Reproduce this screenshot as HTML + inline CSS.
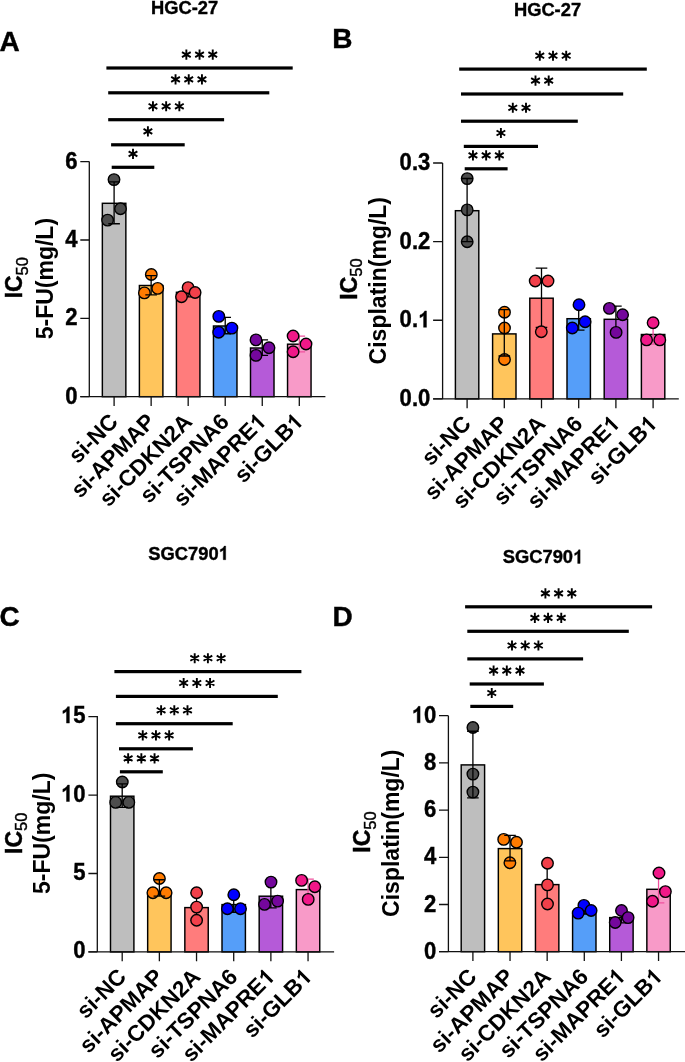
<!DOCTYPE html>
<html><head><meta charset="utf-8"><style>
html,body{margin:0;padding:0;background:#fff;overflow:hidden}
svg{display:block;will-change:transform}
text{font-family:"Liberation Sans", sans-serif;fill:#000}
.h{stroke:#000;stroke-width:0.4px}
.h2{stroke:#000;stroke-width:0.45px}
.th{stroke:none}
</style></head><body>
<svg width="685" height="1062" viewBox="0 0 685 1062">
<rect width="685" height="1062" fill="#fff"/>
<rect x="102.35" y="203.30" width="23.50" height="193.40" fill="#bebebe" stroke="#000" stroke-width="1.45"/>
<rect x="139.39" y="285.50" width="23.50" height="111.20" fill="#ffc55c" stroke="#000" stroke-width="1.45"/>
<rect x="176.43" y="292.30" width="23.50" height="104.40" fill="#ff7c7c" stroke="#000" stroke-width="1.45"/>
<rect x="213.47" y="326.00" width="23.50" height="70.70" fill="#559ef9" stroke="#000" stroke-width="1.45"/>
<rect x="250.51" y="348.00" width="23.50" height="48.70" fill="#b55ad8" stroke="#000" stroke-width="1.45"/>
<rect x="287.55" y="344.20" width="23.50" height="52.50" fill="#f89ac8" stroke="#000" stroke-width="1.45"/>
<circle cx="114.00" cy="179.60" r="5.75" fill="#4d4d4d" stroke="#000" stroke-width="1.4"/><circle cx="120.50" cy="208.80" r="5.75" fill="#4d4d4d" stroke="#000" stroke-width="1.4"/><circle cx="107.60" cy="220.10" r="5.75" fill="#4d4d4d" stroke="#000" stroke-width="1.4"/>
<path d="M114.10 181.93V223.73M108.30 181.93H119.90M108.30 223.73H119.90" stroke="#000" stroke-width="1.3" fill="none"/>
<circle cx="151.30" cy="274.50" r="5.75" fill="#ff7b00" stroke="#000" stroke-width="1.4"/><circle cx="157.70" cy="288.40" r="5.75" fill="#ff7b00" stroke="#000" stroke-width="1.4"/><circle cx="144.40" cy="292.90" r="5.75" fill="#ff7b00" stroke="#000" stroke-width="1.4"/>
<path d="M151.14 275.67V294.86M145.34 275.67H156.94M145.34 294.86H156.94" stroke="#000" stroke-width="1.3" fill="none"/>
<path d="M188.18 287.70V296.90M182.38 287.70H193.98M182.38 296.90H193.98" stroke="#000" stroke-width="1.3" fill="none"/>
<circle cx="188.10" cy="287.60" r="5.75" fill="#f2404a" stroke="#000" stroke-width="1.4"/><circle cx="195.10" cy="292.50" r="5.75" fill="#f2404a" stroke="#000" stroke-width="1.4"/><circle cx="181.50" cy="296.80" r="5.75" fill="#f2404a" stroke="#000" stroke-width="1.4"/>
<path d="M225.22 317.37V333.77M219.42 317.37H231.02M219.42 333.77H231.02" stroke="#000" stroke-width="1.3" fill="none"/>
<circle cx="218.80" cy="316.40" r="5.75" fill="#0000ff" stroke="#000" stroke-width="1.4"/><circle cx="231.90" cy="328.10" r="5.75" fill="#0000ff" stroke="#000" stroke-width="1.4"/><circle cx="218.70" cy="332.20" r="5.75" fill="#0000ff" stroke="#000" stroke-width="1.4"/>
<path d="M262.26 339.92V355.42M256.46 339.92H268.06M256.46 355.42H268.06" stroke="#000" stroke-width="1.3" fill="none"/>
<circle cx="256.00" cy="339.90" r="5.75" fill="#74079c" stroke="#000" stroke-width="1.4"/><circle cx="269.00" cy="347.70" r="5.75" fill="#74079c" stroke="#000" stroke-width="1.4"/><circle cx="256.00" cy="355.40" r="5.75" fill="#74079c" stroke="#000" stroke-width="1.4"/>
<path d="M299.30 336.03V351.83M293.50 336.03H305.10M293.50 351.83H305.10" stroke="#f0509e" stroke-width="1.3" fill="none"/>
<circle cx="293.10" cy="336.00" r="5.75" fill="#f01888" stroke="#000" stroke-width="1.4"/><circle cx="306.00" cy="344.00" r="5.75" fill="#f01888" stroke="#000" stroke-width="1.4"/><circle cx="293.10" cy="351.80" r="5.75" fill="#f01888" stroke="#000" stroke-width="1.4"/>
<path d="M89.30 161.60V396.70M80.30 396.70H325.40" stroke="#111" stroke-width="1.3" fill="none"/>
<g transform="translate(77.50 403.80) scale(0.96 1)"><text class="h" text-anchor="end" font-size="23" font-weight="bold">0</text></g>
<g transform="translate(77.50 325.44) scale(0.96 1)"><text class="h" text-anchor="end" font-size="23" font-weight="bold">2</text></g>
<g transform="translate(77.50 247.08) scale(0.96 1)"><text class="h" text-anchor="end" font-size="23" font-weight="bold">4</text></g>
<g transform="translate(77.50 168.72) scale(0.96 1)"><text class="h" text-anchor="end" font-size="23" font-weight="bold">6</text></g>
<path d="M80.30 396.70H89.30M80.30 318.34H89.30M80.30 239.98H89.30M80.30 161.62H89.30M114.10 396.70V406.10M151.14 396.70V406.10M188.18 396.70V406.10M225.22 396.70V406.10M262.26 396.70V406.10M299.30 396.70V406.10" stroke="#111" stroke-width="1.3" fill="none"/>
<g transform="translate(119.30 422.90) rotate(-45)"><text text-anchor="end" font-size="22.5" font-weight="bold">si-NC</text></g>
<g transform="translate(156.34 422.90) rotate(-45)"><text text-anchor="end" font-size="22.5" font-weight="bold">si-APMAP</text></g>
<g transform="translate(193.38 422.90) rotate(-45)"><text text-anchor="end" font-size="22.5" font-weight="bold">si-CDKN2A</text></g>
<g transform="translate(230.42 422.90) rotate(-45)"><text text-anchor="end" font-size="22.5" font-weight="bold">si-TSPNA6</text></g>
<g transform="translate(267.46 422.90) rotate(-45)"><text text-anchor="end" font-size="22.5" font-weight="bold">si-MAPRE<tspan style="fill:none;stroke:none">1</tspan></text><path d="M-3.89 0.00L-6.86 0.00L-6.86 -11.63Q-8.61 -10.05 -10.54 -9.29L-10.54 -12.10Q-9.16 -12.49 -7.68 -13.59Q-6.25 -14.70 -5.70 -16.11L-3.89 -16.11Z"/></g>
<g transform="translate(304.50 422.90) rotate(-45)"><text text-anchor="end" font-size="22.5" font-weight="bold">si-GLB<tspan style="fill:none;stroke:none">1</tspan></text><path d="M-3.89 0.00L-6.86 0.00L-6.86 -11.63Q-8.61 -10.05 -10.54 -9.29L-10.54 -12.10Q-9.16 -12.49 -7.68 -13.59Q-6.25 -14.70 -5.70 -16.11L-3.89 -16.11Z"/></g>
<text transform="translate(22.10 277.70) rotate(-90)" class="h2" text-anchor="middle" font-size="23" font-weight="bold">IC<tspan font-size="16.5" font-weight="normal" style="stroke:#000;stroke-width:0.4px" dy="5.4">50</tspan></text>
<text transform="translate(52.60 278.60) rotate(-90)" class="th" text-anchor="middle" font-size="23" font-weight="bold">5-FU(mg/L)</text>
<rect x="106.40" y="66.40" width="186.30" height="3.2" fill="#000"/>
<rect x="108.20" y="91.20" width="161.10" height="3.2" fill="#000"/>
<rect x="108.20" y="118.10" width="115.90" height="3.2" fill="#000"/>
<rect x="111.10" y="143.20" width="73.60" height="3.2" fill="#000"/>
<rect x="111.70" y="165.70" width="42.60" height="3.2" fill="#000"/>
<path d="M186.35 59.65L186.35 49.55M181.98 57.12L190.72 52.08M181.98 52.08L190.72 57.12M199.55 59.65L199.55 49.55M195.18 57.12L203.92 52.08M195.18 52.08L203.92 57.12M212.75 59.65L212.75 49.55M208.38 57.12L217.12 52.08M208.38 52.08L217.12 57.12M175.55 84.45L175.55 74.35M171.18 81.92L179.92 76.87M171.18 76.87L179.92 81.92M188.75 84.45L188.75 74.35M184.38 81.92L193.12 76.87M184.38 76.87L193.12 81.92M201.95 84.45L201.95 74.35M197.58 81.92L206.32 76.87M197.58 76.87L206.32 81.92M152.95 111.35L152.95 101.25M148.58 108.83L157.32 103.77M148.58 103.77L157.32 108.83M166.15 111.35L166.15 101.25M161.78 108.83L170.52 103.77M161.78 103.77L170.52 108.83M179.35 111.35L179.35 101.25M174.98 108.83L183.72 103.77M174.98 103.77L183.72 108.83M147.90 136.45L147.90 126.35M143.53 133.93L152.27 128.88M143.53 128.88L152.27 133.93M133.00 158.95L133.00 148.85M128.63 156.43L137.37 151.38M128.63 151.38L137.37 156.43" stroke="#000" stroke-width="1.9" fill="none"/>
<g transform="translate(184.60 14.40) scale(0.965 1)"><text class="h" text-anchor="middle" font-size="19" font-weight="bold">HGC-27</text></g>
<text x="-0.60" y="50.80" class="h" font-size="28" font-weight="bold">A</text>
<rect x="455.40" y="210.70" width="23.40" height="188.20" fill="#bebebe" stroke="#000" stroke-width="1.45"/>
<rect x="492.60" y="333.90" width="23.40" height="65.00" fill="#ffc55c" stroke="#000" stroke-width="1.45"/>
<rect x="529.80" y="298.20" width="23.40" height="100.70" fill="#ff7c7c" stroke="#000" stroke-width="1.45"/>
<rect x="567.00" y="318.70" width="23.40" height="80.20" fill="#559ef9" stroke="#000" stroke-width="1.45"/>
<rect x="604.20" y="319.30" width="23.40" height="79.60" fill="#b55ad8" stroke="#000" stroke-width="1.45"/>
<rect x="641.40" y="334.50" width="23.40" height="64.40" fill="#f89ac8" stroke="#000" stroke-width="1.45"/>
<circle cx="467.20" cy="178.60" r="5.75" fill="#4d4d4d" stroke="#000" stroke-width="1.4"/><circle cx="467.20" cy="209.90" r="5.75" fill="#4d4d4d" stroke="#000" stroke-width="1.4"/><circle cx="467.20" cy="241.70" r="5.75" fill="#4d4d4d" stroke="#000" stroke-width="1.4"/>
<path d="M467.10 178.52V241.62M461.30 178.52H472.90M461.30 241.62H472.90" stroke="#000" stroke-width="1.3" fill="none"/>
<circle cx="504.50" cy="312.20" r="5.75" fill="#ff7b00" stroke="#000" stroke-width="1.4"/><circle cx="504.50" cy="328.00" r="5.75" fill="#ff7b00" stroke="#000" stroke-width="1.4"/><circle cx="504.50" cy="359.50" r="5.75" fill="#ff7b00" stroke="#000" stroke-width="1.4"/>
<path d="M504.30 309.60V356.00M498.50 309.60H510.10M498.50 356.00H510.10" stroke="#000" stroke-width="1.3" fill="none"/>
<path d="M541.50 268.20V327.40M535.70 268.20H547.30M535.70 327.40H547.30" stroke="#000" stroke-width="1.3" fill="none"/>
<circle cx="535.20" cy="281.00" r="5.75" fill="#f2404a" stroke="#000" stroke-width="1.4"/><circle cx="548.00" cy="281.00" r="5.75" fill="#f2404a" stroke="#000" stroke-width="1.4"/><circle cx="541.30" cy="331.80" r="5.75" fill="#f2404a" stroke="#000" stroke-width="1.4"/>
<path d="M578.70 306.08V330.19M572.90 306.08H584.50M572.90 330.19H584.50" stroke="#000" stroke-width="1.3" fill="none"/>
<circle cx="579.00" cy="304.70" r="5.75" fill="#0000ff" stroke="#000" stroke-width="1.4"/><circle cx="585.10" cy="321.70" r="5.75" fill="#0000ff" stroke="#000" stroke-width="1.4"/><circle cx="572.30" cy="328.00" r="5.75" fill="#0000ff" stroke="#000" stroke-width="1.4"/>
<path d="M615.90 306.06V330.94M610.10 306.06H621.70M610.10 330.94H621.70" stroke="#000" stroke-width="1.3" fill="none"/>
<circle cx="609.40" cy="308.40" r="5.75" fill="#74079c" stroke="#000" stroke-width="1.4"/><circle cx="622.60" cy="314.70" r="5.75" fill="#74079c" stroke="#000" stroke-width="1.4"/><circle cx="616.10" cy="332.40" r="5.75" fill="#74079c" stroke="#000" stroke-width="1.4"/>
<path d="M653.10 324.24V344.10M647.30 324.24H658.90M647.30 344.10H658.90" stroke="#f0509e" stroke-width="1.3" fill="none"/>
<circle cx="653.10" cy="322.70" r="5.75" fill="#f01888" stroke="#000" stroke-width="1.4"/><circle cx="646.60" cy="339.90" r="5.75" fill="#f01888" stroke="#000" stroke-width="1.4"/><circle cx="659.80" cy="339.90" r="5.75" fill="#f01888" stroke="#000" stroke-width="1.4"/>
<path d="M442.60 162.90V398.90M433.10 398.90H678.80" stroke="#111" stroke-width="1.3" fill="none"/>
<g transform="translate(430.30 406.00) scale(0.96 1)"><text class="h" text-anchor="end" font-size="23" font-weight="bold">0.0</text></g>
<g transform="translate(430.30 327.37) scale(0.96 1)"><text class="h" text-anchor="end" font-size="23" font-weight="bold">0.<tspan style="fill:none;stroke:none">1</tspan></text><path class="h" d="M-3.98 0.00L-7.01 0.00L-7.01 -11.89Q-8.80 -10.28 -10.77 -9.50L-10.77 -12.36Q-9.37 -12.77 -7.85 -13.89Q-6.39 -15.03 -5.83 -16.46L-3.98 -16.46Z"/></g>
<g transform="translate(430.30 248.74) scale(0.96 1)"><text class="h" text-anchor="end" font-size="23" font-weight="bold">0.2</text></g>
<g transform="translate(430.30 170.11) scale(0.96 1)"><text class="h" text-anchor="end" font-size="23" font-weight="bold">0.3</text></g>
<path d="M433.10 398.90H442.60M433.10 320.27H442.60M433.10 241.64H442.60M433.10 163.01H442.60M467.10 398.90V408.30M504.30 398.90V408.30M541.50 398.90V408.30M578.70 398.90V408.30M615.90 398.90V408.30M653.10 398.90V408.30" stroke="#111" stroke-width="1.3" fill="none"/>
<g transform="translate(472.30 425.10) rotate(-45)"><text text-anchor="end" font-size="22.5" font-weight="bold">si-NC</text></g>
<g transform="translate(509.50 425.10) rotate(-45)"><text text-anchor="end" font-size="22.5" font-weight="bold">si-APMAP</text></g>
<g transform="translate(546.70 425.10) rotate(-45)"><text text-anchor="end" font-size="22.5" font-weight="bold">si-CDKN2A</text></g>
<g transform="translate(583.90 425.10) rotate(-45)"><text text-anchor="end" font-size="22.5" font-weight="bold">si-TSPNA6</text></g>
<g transform="translate(621.10 425.10) rotate(-45)"><text text-anchor="end" font-size="22.5" font-weight="bold">si-MAPRE<tspan style="fill:none;stroke:none">1</tspan></text><path d="M-3.89 0.00L-6.86 0.00L-6.86 -11.63Q-8.61 -10.05 -10.54 -9.29L-10.54 -12.10Q-9.16 -12.49 -7.68 -13.59Q-6.25 -14.70 -5.70 -16.11L-3.89 -16.11Z"/></g>
<g transform="translate(658.30 425.10) rotate(-45)"><text text-anchor="end" font-size="22.5" font-weight="bold">si-GLB<tspan style="fill:none;stroke:none">1</tspan></text><path d="M-3.89 0.00L-6.86 0.00L-6.86 -11.63Q-8.61 -10.05 -10.54 -9.29L-10.54 -12.10Q-9.16 -12.49 -7.68 -13.59Q-6.25 -14.70 -5.70 -16.11L-3.89 -16.11Z"/></g>
<text transform="translate(357.00 279.00) rotate(-90)" class="h2" text-anchor="middle" font-size="23" font-weight="bold">IC<tspan font-size="16.5" font-weight="normal" style="stroke:#000;stroke-width:0.4px" dy="5.4">50</tspan></text>
<text transform="translate(385.80 280.70) rotate(-90)" class="th" text-anchor="middle" font-size="23" font-weight="bold">Cisplatin(mg/L)</text>
<rect x="459.20" y="67.50" width="187.60" height="3.2" fill="#000"/>
<rect x="461.00" y="92.40" width="162.20" height="3.2" fill="#000"/>
<rect x="461.00" y="119.60" width="116.80" height="3.2" fill="#000"/>
<rect x="463.80" y="144.80" width="74.20" height="3.2" fill="#000"/>
<rect x="464.70" y="167.20" width="42.90" height="3.2" fill="#000"/>
<path d="M539.80 60.75L539.80 50.65M535.43 58.22L544.17 53.17M535.43 53.17L544.17 58.22M553.00 60.75L553.00 50.65M548.63 58.22L557.37 53.17M548.63 53.17L557.37 58.22M566.20 60.75L566.20 50.65M561.83 58.22L570.57 53.17M561.83 53.17L570.57 58.22M535.50 85.65L535.50 75.55M531.13 83.12L539.87 78.07M531.13 78.07L539.87 83.12M548.70 85.65L548.70 75.55M544.33 83.12L553.07 78.07M544.33 78.07L553.07 83.12M512.80 112.85L512.80 102.75M508.43 110.33L517.17 105.27M508.43 105.27L517.17 110.33M526.00 112.85L526.00 102.75M521.63 110.33L530.37 105.27M521.63 105.27L530.37 110.33M500.90 138.05L500.90 127.95M496.53 135.53L505.27 130.47M496.53 130.47L505.27 135.53M472.95 160.45L472.95 150.35M468.58 157.93L477.32 152.88M468.58 152.88L477.32 157.93M486.15 160.45L486.15 150.35M481.78 157.93L490.52 152.88M481.78 152.88L490.52 157.93M499.35 160.45L499.35 150.35M494.98 157.93L503.72 152.88M494.98 152.88L503.72 157.93" stroke="#000" stroke-width="1.9" fill="none"/>
<g transform="translate(547.50 16.00) scale(0.965 1)"><text class="h" text-anchor="middle" font-size="19" font-weight="bold">HGC-27</text></g>
<text x="332.20" y="47.90" class="h" font-size="28" font-weight="bold">B</text>
<rect x="110.50" y="796.20" width="23.40" height="155.70" fill="#bebebe" stroke="#000" stroke-width="1.45"/>
<rect x="147.67" y="894.70" width="23.40" height="57.20" fill="#ffc55c" stroke="#000" stroke-width="1.45"/>
<rect x="184.84" y="907.60" width="23.40" height="44.30" fill="#ff7c7c" stroke="#000" stroke-width="1.45"/>
<rect x="222.01" y="904.60" width="23.40" height="47.30" fill="#559ef9" stroke="#000" stroke-width="1.45"/>
<rect x="259.18" y="896.20" width="23.40" height="55.70" fill="#b55ad8" stroke="#000" stroke-width="1.45"/>
<rect x="296.35" y="889.60" width="23.40" height="62.30" fill="#f89ac8" stroke="#000" stroke-width="1.45"/>
<circle cx="122.30" cy="782.00" r="5.75" fill="#4d4d4d" stroke="#000" stroke-width="1.4"/><circle cx="115.70" cy="802.40" r="5.75" fill="#4d4d4d" stroke="#000" stroke-width="1.4"/><circle cx="128.80" cy="802.40" r="5.75" fill="#4d4d4d" stroke="#000" stroke-width="1.4"/>
<path d="M122.20 783.82V807.38M116.40 783.82H128.00M116.40 807.38H128.00" stroke="#000" stroke-width="1.3" fill="none"/>
<circle cx="159.40" cy="878.50" r="5.75" fill="#ff7b00" stroke="#000" stroke-width="1.4"/><circle cx="152.90" cy="892.70" r="5.75" fill="#ff7b00" stroke="#000" stroke-width="1.4"/><circle cx="166.10" cy="892.70" r="5.75" fill="#ff7b00" stroke="#000" stroke-width="1.4"/>
<path d="M159.37 879.77V896.17M153.57 879.77H165.17M153.57 896.17H165.17" stroke="#000" stroke-width="1.3" fill="none"/>
<path d="M196.54 892.91V920.42M190.74 892.91H202.34M190.74 920.42H202.34" stroke="#000" stroke-width="1.3" fill="none"/>
<circle cx="196.60" cy="892.70" r="5.75" fill="#f2404a" stroke="#000" stroke-width="1.4"/><circle cx="196.60" cy="907.10" r="5.75" fill="#f2404a" stroke="#000" stroke-width="1.4"/><circle cx="196.60" cy="920.20" r="5.75" fill="#f2404a" stroke="#000" stroke-width="1.4"/>
<path d="M233.71 895.96V912.24M227.91 895.96H239.51M227.91 912.24H239.51" stroke="#000" stroke-width="1.3" fill="none"/>
<circle cx="233.80" cy="894.70" r="5.75" fill="#0000ff" stroke="#000" stroke-width="1.4"/><circle cx="227.40" cy="908.80" r="5.75" fill="#0000ff" stroke="#000" stroke-width="1.4"/><circle cx="240.50" cy="908.80" r="5.75" fill="#0000ff" stroke="#000" stroke-width="1.4"/>
<path d="M270.88 883.83V907.90M265.08 883.83H276.68M265.08 907.90H276.68" stroke="#000" stroke-width="1.3" fill="none"/>
<circle cx="271.00" cy="882.10" r="5.75" fill="#74079c" stroke="#000" stroke-width="1.4"/><circle cx="264.50" cy="904.40" r="5.75" fill="#74079c" stroke="#000" stroke-width="1.4"/><circle cx="277.60" cy="901.10" r="5.75" fill="#74079c" stroke="#000" stroke-width="1.4"/>
<path d="M308.05 879.16V898.51M302.25 879.16H313.85M302.25 898.51H313.85" stroke="#f0509e" stroke-width="1.3" fill="none"/>
<circle cx="301.60" cy="880.40" r="5.75" fill="#f01888" stroke="#000" stroke-width="1.4"/><circle cx="314.80" cy="886.70" r="5.75" fill="#f01888" stroke="#000" stroke-width="1.4"/><circle cx="308.20" cy="899.40" r="5.75" fill="#f01888" stroke="#000" stroke-width="1.4"/>
<path d="M97.30 716.00V951.90M88.40 951.90H334.10" stroke="#111" stroke-width="1.3" fill="none"/>
<g transform="translate(85.50 958.30) scale(0.96 1)"><text class="h" text-anchor="end" font-size="23" font-weight="bold">0</text></g>
<g transform="translate(85.50 879.90) scale(0.96 1)"><text class="h" text-anchor="end" font-size="23" font-weight="bold">5</text></g>
<g transform="translate(85.50 801.50) scale(0.96 1)"><text class="h" text-anchor="end" font-size="23" font-weight="bold"><tspan style="fill:none;stroke:none">1</tspan>0</text><path class="h" d="M-16.77 0.00L-19.80 0.00L-19.80 -11.89Q-21.60 -10.28 -23.56 -9.50L-23.56 -12.36Q-22.16 -12.77 -20.64 -13.89Q-19.18 -15.03 -18.62 -16.46L-16.77 -16.46Z"/></g>
<g transform="translate(85.50 723.10) scale(0.96 1)"><text class="h" text-anchor="end" font-size="23" font-weight="bold"><tspan style="fill:none;stroke:none">1</tspan>5</text><path class="h" d="M-16.77 0.00L-19.80 0.00L-19.80 -11.89Q-21.60 -10.28 -23.56 -9.50L-23.56 -12.36Q-22.16 -12.77 -20.64 -13.89Q-19.18 -15.03 -18.62 -16.46L-16.77 -16.46Z"/></g>
<path d="M88.40 951.90H97.30M88.40 873.50H97.30M88.40 795.10H97.30M88.40 716.70H97.30M122.20 951.90V961.30M159.37 951.90V961.30M196.54 951.90V961.30M233.71 951.90V961.30M270.88 951.90V961.30M308.05 951.90V961.30" stroke="#111" stroke-width="1.3" fill="none"/>
<g transform="translate(127.40 978.10) rotate(-45)"><text text-anchor="end" font-size="22.5" font-weight="bold">si-NC</text></g>
<g transform="translate(164.57 978.10) rotate(-45)"><text text-anchor="end" font-size="22.5" font-weight="bold">si-APMAP</text></g>
<g transform="translate(201.74 978.10) rotate(-45)"><text text-anchor="end" font-size="22.5" font-weight="bold">si-CDKN2A</text></g>
<g transform="translate(238.91 978.10) rotate(-45)"><text text-anchor="end" font-size="22.5" font-weight="bold">si-TSPNA6</text></g>
<g transform="translate(276.08 978.10) rotate(-45)"><text text-anchor="end" font-size="22.5" font-weight="bold">si-MAPRE<tspan style="fill:none;stroke:none">1</tspan></text><path d="M-3.89 0.00L-6.86 0.00L-6.86 -11.63Q-8.61 -10.05 -10.54 -9.29L-10.54 -12.10Q-9.16 -12.49 -7.68 -13.59Q-6.25 -14.70 -5.70 -16.11L-3.89 -16.11Z"/></g>
<g transform="translate(313.25 978.10) rotate(-45)"><text text-anchor="end" font-size="22.5" font-weight="bold">si-GLB<tspan style="fill:none;stroke:none">1</tspan></text><path d="M-3.89 0.00L-6.86 0.00L-6.86 -11.63Q-8.61 -10.05 -10.54 -9.29L-10.54 -12.10Q-9.16 -12.49 -7.68 -13.59Q-6.25 -14.70 -5.70 -16.11L-3.89 -16.11Z"/></g>
<text transform="translate(21.90 833.30) rotate(-90)" class="h2" text-anchor="middle" font-size="23" font-weight="bold">IC<tspan font-size="16.5" font-weight="normal" style="stroke:#000;stroke-width:0.4px" dy="5.4">50</tspan></text>
<text transform="translate(50.20 833.30) rotate(-90)" class="th" text-anchor="middle" font-size="23" font-weight="bold">5-FU(mg/L)</text>
<rect x="114.40" y="670.00" width="187.00" height="3.2" fill="#000"/>
<rect x="115.90" y="694.80" width="161.90" height="3.2" fill="#000"/>
<rect x="115.90" y="722.10" width="116.80" height="3.2" fill="#000"/>
<rect x="119.00" y="747.20" width="73.90" height="3.2" fill="#000"/>
<rect x="119.90" y="770.20" width="42.90" height="3.2" fill="#000"/>
<path d="M194.70 663.25L194.70 653.15M190.33 660.73L199.07 655.68M190.33 655.68L199.07 660.73M207.90 663.25L207.90 653.15M203.53 660.73L212.27 655.68M203.53 655.68L212.27 660.73M221.10 663.25L221.10 653.15M216.73 660.73L225.47 655.68M216.73 655.68L225.47 660.73M183.65 688.05L183.65 677.95M179.28 685.52L188.02 680.48M179.28 680.48L188.02 685.52M196.85 688.05L196.85 677.95M192.48 685.52L201.22 680.48M192.48 680.48L201.22 685.52M210.05 688.05L210.05 677.95M205.68 685.52L214.42 680.48M205.68 680.48L214.42 685.52M161.10 715.35L161.10 705.25M156.73 712.83L165.47 707.78M156.73 707.78L165.47 712.83M174.30 715.35L174.30 705.25M169.93 712.83L178.67 707.78M169.93 707.78L178.67 712.83M187.50 715.35L187.50 705.25M183.13 712.83L191.87 707.78M183.13 707.78L191.87 712.83M142.75 740.45L142.75 730.35M138.38 737.92L147.12 732.88M138.38 732.88L147.12 737.92M155.95 740.45L155.95 730.35M151.58 737.92L160.32 732.88M151.58 732.88L160.32 737.92M169.15 740.45L169.15 730.35M164.78 737.92L173.52 732.88M164.78 732.88L173.52 737.92M128.15 763.45L128.15 753.35M123.78 760.92L132.52 755.88M123.78 755.88L132.52 760.92M141.35 763.45L141.35 753.35M136.98 760.92L145.72 755.88M136.98 755.88L145.72 760.92M154.55 763.45L154.55 753.35M150.18 760.92L158.92 755.88M150.18 755.88L158.92 760.92" stroke="#000" stroke-width="1.9" fill="none"/>
<g transform="translate(188.60 559.70) scale(0.965 1)"><text class="h" text-anchor="middle" font-size="19" font-weight="bold">SGC790<tspan style="fill:none;stroke:none">1</tspan></text><path class="h" d="M38.44 0.00L35.93 0.00L35.93 -9.82Q34.45 -8.49 32.82 -7.85L32.82 -10.21Q33.98 -10.55 35.24 -11.48Q36.44 -12.41 36.91 -13.60L38.44 -13.60Z"/></g>
<text x="-0.40" y="625.60" class="h" font-size="28" font-weight="bold">C</text>
<rect x="461.20" y="764.90" width="23.40" height="186.80" fill="#bebebe" stroke="#000" stroke-width="1.45"/>
<rect x="498.33" y="848.60" width="23.40" height="103.10" fill="#ffc55c" stroke="#000" stroke-width="1.45"/>
<rect x="535.46" y="884.60" width="23.40" height="67.10" fill="#ff7c7c" stroke="#000" stroke-width="1.45"/>
<rect x="572.59" y="914.00" width="23.40" height="37.70" fill="#559ef9" stroke="#000" stroke-width="1.45"/>
<rect x="609.72" y="917.60" width="23.40" height="34.10" fill="#b55ad8" stroke="#000" stroke-width="1.45"/>
<rect x="646.85" y="889.30" width="23.40" height="62.40" fill="#f89ac8" stroke="#000" stroke-width="1.45"/>
<circle cx="472.90" cy="727.50" r="5.75" fill="#4d4d4d" stroke="#000" stroke-width="1.4"/><circle cx="472.90" cy="774.10" r="5.75" fill="#4d4d4d" stroke="#000" stroke-width="1.4"/><circle cx="472.90" cy="792.10" r="5.75" fill="#4d4d4d" stroke="#000" stroke-width="1.4"/>
<path d="M472.90 731.23V797.91M467.10 731.23H478.70M467.10 797.91H478.70" stroke="#000" stroke-width="1.3" fill="none"/>
<circle cx="503.70" cy="839.40" r="5.75" fill="#ff7b00" stroke="#000" stroke-width="1.4"/><circle cx="516.50" cy="842.20" r="5.75" fill="#ff7b00" stroke="#000" stroke-width="1.4"/><circle cx="509.90" cy="862.70" r="5.75" fill="#ff7b00" stroke="#000" stroke-width="1.4"/>
<path d="M510.03 835.38V860.82M504.23 835.38H515.83M504.23 860.82H515.83" stroke="#000" stroke-width="1.3" fill="none"/>
<path d="M547.16 863.70V904.43M541.36 863.70H552.96M541.36 904.43H552.96" stroke="#000" stroke-width="1.3" fill="none"/>
<circle cx="547.50" cy="863.30" r="5.75" fill="#f2404a" stroke="#000" stroke-width="1.4"/><circle cx="547.50" cy="884.90" r="5.75" fill="#f2404a" stroke="#000" stroke-width="1.4"/><circle cx="547.50" cy="904.00" r="5.75" fill="#f2404a" stroke="#000" stroke-width="1.4"/>
<path d="M584.29 905.75V913.58M578.49 905.75H590.09M578.49 913.58H590.09" stroke="#000" stroke-width="1.3" fill="none"/>
<circle cx="583.90" cy="905.40" r="5.75" fill="#0000ff" stroke="#000" stroke-width="1.4"/><circle cx="578.20" cy="913.10" r="5.75" fill="#0000ff" stroke="#000" stroke-width="1.4"/><circle cx="591.10" cy="910.50" r="5.75" fill="#0000ff" stroke="#000" stroke-width="1.4"/>
<path d="M621.42 910.83V922.90M615.62 910.83H627.22M615.62 922.90H627.22" stroke="#000" stroke-width="1.3" fill="none"/>
<circle cx="621.50" cy="910.50" r="5.75" fill="#74079c" stroke="#000" stroke-width="1.4"/><circle cx="615.20" cy="922.50" r="5.75" fill="#74079c" stroke="#000" stroke-width="1.4"/><circle cx="628.10" cy="917.60" r="5.75" fill="#74079c" stroke="#000" stroke-width="1.4"/>
<path d="M658.55 874.26V902.94M652.75 874.26H664.35M652.75 902.94H664.35" stroke="#f0509e" stroke-width="1.3" fill="none"/>
<circle cx="659.00" cy="873.00" r="5.75" fill="#f01888" stroke="#000" stroke-width="1.4"/><circle cx="665.40" cy="891.60" r="5.75" fill="#f01888" stroke="#000" stroke-width="1.4"/><circle cx="652.50" cy="901.20" r="5.75" fill="#f01888" stroke="#000" stroke-width="1.4"/>
<path d="M448.40 715.80V951.70M439.00 951.70H685.00" stroke="#111" stroke-width="1.3" fill="none"/>
<g transform="translate(436.20 958.80) scale(0.96 1)"><text class="h" text-anchor="end" font-size="23" font-weight="bold">0</text></g>
<g transform="translate(436.20 911.60) scale(0.96 1)"><text class="h" text-anchor="end" font-size="23" font-weight="bold">2</text></g>
<g transform="translate(436.20 864.40) scale(0.96 1)"><text class="h" text-anchor="end" font-size="23" font-weight="bold">4</text></g>
<g transform="translate(436.20 817.20) scale(0.96 1)"><text class="h" text-anchor="end" font-size="23" font-weight="bold">6</text></g>
<g transform="translate(436.20 770.00) scale(0.96 1)"><text class="h" text-anchor="end" font-size="23" font-weight="bold">8</text></g>
<g transform="translate(436.20 722.80) scale(0.96 1)"><text class="h" text-anchor="end" font-size="23" font-weight="bold"><tspan style="fill:none;stroke:none">1</tspan>0</text><path class="h" d="M-16.77 0.00L-19.80 0.00L-19.80 -11.89Q-21.60 -10.28 -23.56 -9.50L-23.56 -12.36Q-22.16 -12.77 -20.64 -13.89Q-19.18 -15.03 -18.62 -16.46L-16.77 -16.46Z"/></g>
<path d="M439.00 951.70H448.40M439.00 904.50H448.40M439.00 857.30H448.40M439.00 810.10H448.40M439.00 762.90H448.40M439.00 715.70H448.40M472.90 951.70V961.10M510.03 951.70V961.10M547.16 951.70V961.10M584.29 951.70V961.10M621.42 951.70V961.10M658.55 951.70V961.10" stroke="#111" stroke-width="1.3" fill="none"/>
<g transform="translate(478.10 977.90) rotate(-45)"><text text-anchor="end" font-size="22.5" font-weight="bold">si-NC</text></g>
<g transform="translate(515.23 977.90) rotate(-45)"><text text-anchor="end" font-size="22.5" font-weight="bold">si-APMAP</text></g>
<g transform="translate(552.36 977.90) rotate(-45)"><text text-anchor="end" font-size="22.5" font-weight="bold">si-CDKN2A</text></g>
<g transform="translate(589.49 977.90) rotate(-45)"><text text-anchor="end" font-size="22.5" font-weight="bold">si-TSPNA6</text></g>
<g transform="translate(626.62 977.90) rotate(-45)"><text text-anchor="end" font-size="22.5" font-weight="bold">si-MAPRE<tspan style="fill:none;stroke:none">1</tspan></text><path d="M-3.89 0.00L-6.86 0.00L-6.86 -11.63Q-8.61 -10.05 -10.54 -9.29L-10.54 -12.10Q-9.16 -12.49 -7.68 -13.59Q-6.25 -14.70 -5.70 -16.11L-3.89 -16.11Z"/></g>
<g transform="translate(663.75 977.90) rotate(-45)"><text text-anchor="end" font-size="22.5" font-weight="bold">si-GLB<tspan style="fill:none;stroke:none">1</tspan></text><path d="M-3.89 0.00L-6.86 0.00L-6.86 -11.63Q-8.61 -10.05 -10.54 -9.29L-10.54 -12.10Q-9.16 -12.49 -7.68 -13.59Q-6.25 -14.70 -5.70 -16.11L-3.89 -16.11Z"/></g>
<text transform="translate(370.40 832.00) rotate(-90)" class="h2" text-anchor="middle" font-size="23" font-weight="bold">IC<tspan font-size="16.5" font-weight="normal" style="stroke:#000;stroke-width:0.4px" dy="5.4">50</tspan></text>
<text transform="translate(399.20 833.20) rotate(-90)" class="th" text-anchor="middle" font-size="23" font-weight="bold">Cisplatin(mg/L)</text>
<rect x="465.10" y="605.20" width="187.00" height="3.2" fill="#000"/>
<rect x="467.30" y="629.70" width="161.50" height="3.2" fill="#000"/>
<rect x="467.30" y="657.30" width="115.80" height="3.2" fill="#000"/>
<rect x="469.70" y="682.40" width="74.20" height="3.2" fill="#000"/>
<rect x="470.30" y="704.80" width="42.90" height="3.2" fill="#000"/>
<path d="M545.40 598.45L545.40 588.35M541.03 595.92L549.77 590.88M541.03 590.88L549.77 595.92M558.60 598.45L558.60 588.35M554.23 595.92L562.97 590.88M554.23 590.88L562.97 595.92M571.80 598.45L571.80 588.35M567.43 595.92L576.17 590.88M567.43 590.88L576.17 595.92M534.85 622.95L534.85 612.85M530.48 620.42L539.22 615.38M530.48 615.38L539.22 620.42M548.05 622.95L548.05 612.85M543.68 620.42L552.42 615.38M543.68 615.38L552.42 620.42M561.25 622.95L561.25 612.85M556.88 620.42L565.62 615.38M556.88 615.38L565.62 620.42M512.00 650.55L512.00 640.45M507.63 648.02L516.37 642.98M507.63 642.98L516.37 648.02M525.20 650.55L525.20 640.45M520.83 648.02L529.57 642.98M520.83 642.98L529.57 648.02M538.40 650.55L538.40 640.45M534.03 648.02L542.77 642.98M534.03 642.98L542.77 648.02M493.60 675.65L493.60 665.55M489.23 673.12L497.97 668.08M489.23 668.08L497.97 673.12M506.80 675.65L506.80 665.55M502.43 673.12L511.17 668.08M502.43 668.08L511.17 673.12M520.00 675.65L520.00 665.55M515.63 673.12L524.37 668.08M515.63 668.08L524.37 673.12M491.75 698.05L491.75 687.95M487.38 695.52L496.12 690.48M487.38 690.48L496.12 695.52" stroke="#000" stroke-width="1.9" fill="none"/>
<g transform="translate(543.00 563.40) scale(0.965 1)"><text class="h" text-anchor="middle" font-size="19" font-weight="bold">SGC790<tspan style="fill:none;stroke:none">1</tspan></text><path class="h" d="M38.44 0.00L35.93 0.00L35.93 -9.82Q34.45 -8.49 32.82 -7.85L32.82 -10.21Q33.98 -10.55 35.24 -11.48Q36.44 -12.41 36.91 -13.60L38.44 -13.60Z"/></g>
<text x="332.40" y="625.50" class="h" font-size="28" font-weight="bold">D</text>
</svg></body></html>
